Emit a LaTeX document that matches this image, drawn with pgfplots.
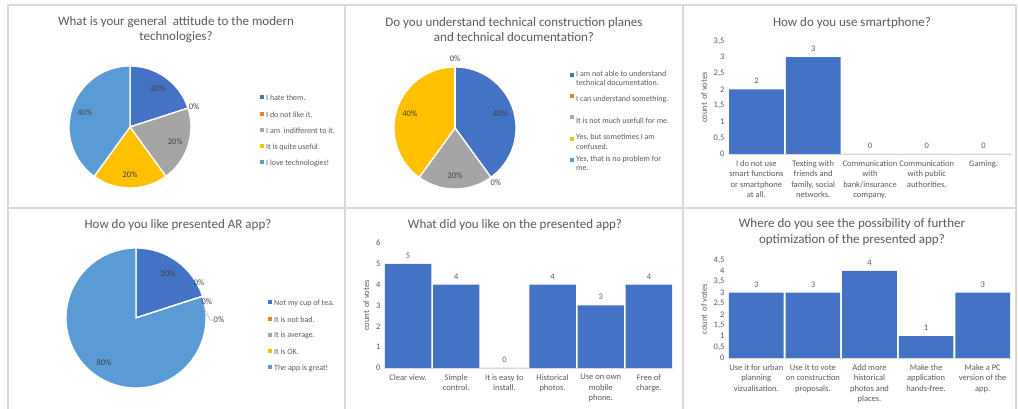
\documentclass[border=0pt]{standalone}
\usepackage{pgfplots}
\pgfplotsset{compat=1.18}
\usepackage{fontspec}
\setmainfont{Carlito}

\definecolor{xblue}{HTML}{4472C4}
\definecolor{xorange}{HTML}{ED7D31}
\definecolor{xgray}{HTML}{A5A5A5}
\definecolor{xyellow}{HTML}{FFC000}
\definecolor{xlblue}{HTML}{5B9BD5}
\definecolor{txt}{HTML}{595959}
\definecolor{lbl}{HTML}{404040}
\definecolor{framec}{HTML}{D9D9D9}

% #1 start (percent), #2 value (percent), #3 colour, #4 radius
\newcommand{\slice}[4]{%
  \fill[#3, draw=white, line width=1.3pt, line join=round]
    (axis cs:0,0) -- (axis cs:{cos(90-3.6*#1)},{sin(90-3.6*#1)})
    arc[start angle={90-3.6*#1}, end angle={90-3.6*(#1+#2)}, radius=#4] -- cycle;}
% label at 0.78 r on the slice bisector
\newcommand{\slicelabel}[2]{%
  \node[font=\fontsize{8.5}{10}\selectfont, text=lbl]
    at (axis cs:{0.78*cos(90-3.6*(#1+#2/2))},{0.78*sin(90-3.6*(#1+#2/2))}) {#2\%};}
\newcommand{\zerolabel}[2]{%
  \node[font=\fontsize{8.5}{10}\selectfont, text=lbl] at (axis cs:#1,#2) {0\%};}

\pgfplotsset{
  pie/.style={
    scale only axis, anchor=south west, hide axis, clip=false,
    xmin=-1, xmax=1, ymin=-1, ymax=1,
    legend image code/.code={\fill[##1, draw=none] (0pt,-2pt) rectangle (4pt,2pt);},
    legend style={draw=none, fill=none, anchor=north west,
      font=\fontsize{8}{9.5}\selectfont, text=txt,
      row sep=5.75pt, nodes={inner sep=1pt},
      /tikz/every odd column/.append style={column sep=1pt}},
    legend cell align=left,
  },
  votes/.style={
    scale only axis, anchor=south west,
    ybar, bar width=0.965, ymin=0,
    separate axis lines,
    axis x line*=bottom, axis y line*=left,
    x axis line style={draw=framec, line width=0.8pt, -},
    y axis line style={draw=none},
    major tick length=0pt,
    ticklabel style={font=\fontsize{8.5}{10.5}\selectfont, text=txt},
    xticklabel style={align=center, yshift=-3pt},
    yticklabel style={/pgf/number format/use comma,
      /pgf/number format/assume math mode=true},
    ylabel={count \,of votes},
    ylabel style={font=\fontsize{8.5}{10}\selectfont, text=txt},
    nodes near coords,
    every node near coord/.append style={font=\fontsize{8.5}{10}\selectfont,
      text=txt, yshift=2pt, /pgf/number format/assume math mode=true},
  },
}

\begin{document}
\begin{tikzpicture}[x=1pt, y=1pt]
\useasboundingbox (0,0) rectangle (1018,409);

% panel frames
\draw[framec, line width=1.2pt]
  (8,0) -- (8,404) -- (1016,404) -- (1016,0)
  (345,0) -- (345,404) (683,0) -- (683,404)
  (8,201) -- (1016,201);

% titles
\begin{scope}[every node/.style={font=\fontsize{13}{15.5}\selectfont, text=txt, align=center}]
\node at (176,379.5) {What is your general \ attitude to the modern\\technologies?};
\node at (514,379.5) {Do you understand technical construction planes\\and technical documentation?};
\node at (852,386) {How do you use smartphone?};
\node at (178,184) {How do you like presented AR app?};
\node at (515,184) {What did you like on the presented app?};
\node at (852,177) {Where do you see the possibility of further\\optimization of the presented app?};
\end{scope}

% ---- pie 1
\begin{axis}[pie, at={(69pt,221pt)}, width=122pt, height=122pt,
  legend style={at={(1.541,0.803)}}]
  \addlegendimage{fill=xblue}   \addlegendentry{\parbox[c][10pt][c]{100pt}{I hate them.}}
  \addlegendimage{fill=xorange} \addlegendentry{\parbox[c][10pt][c]{100pt}{I do not like it.}}
  \addlegendimage{fill=xgray}   \addlegendentry{\parbox[c][10pt][c]{100pt}{I am \ indifferent to it.}}
  \addlegendimage{fill=xyellow} \addlegendentry{\parbox[c][10pt][c]{100pt}{It is quite useful.}}
  \addlegendimage{fill=xlblue}  \addlegendentry{\parbox[c][10pt][c]{100pt}{I love technologies!}}
  \slice{0}{20}{xblue}{61pt}
  \slice{20}{0}{xorange}{61pt}
  \slice{20}{20}{xgray}{61pt}
  \slice{40}{20}{xyellow}{61pt}
  \slice{60}{40}{xlblue}{61pt}
  \slicelabel{0}{20}
  \slicelabel{20}{20}
  \slicelabel{40}{20}
  \slicelabel{60}{40}
  \zerolabel{1.05}{0.33}
\end{axis}

% ---- pie 2
\begin{axis}[pie, at={(394pt,220pt)}, width=122pt, height=122pt,
  legend style={at={(1.418,1.016)}}]
  \addlegendimage{fill=xblue}   \addlegendentry{\parbox[c][20pt][c]{105pt}{\raggedright I am not able to understand\\technical documentation.}}
  \addlegendimage{fill=xorange} \addlegendentry{\parbox[c][20pt][c]{105pt}{I can understand something.}}
  \addlegendimage{fill=xgray}   \addlegendentry{\parbox[c][20pt][c]{105pt}{It is not much usefull for me.}}
  \addlegendimage{fill=xyellow} \addlegendentry{\parbox[c][20pt][c]{105pt}{\raggedright Yes, but sometimes I am\\confused.}}
  \addlegendimage{fill=xlblue}  \addlegendentry{\parbox[c][20pt][c]{105pt}{\raggedright Yes, that is no problem for\\me.}}
  \slice{0}{40}{xblue}{61pt}
  \slice{40}{0}{xorange}{61pt}
  \slice{40}{20}{xgray}{61pt}
  \slice{60}{40}{xyellow}{61pt}
  \slice{100}{0}{xlblue}{61pt}
  \slicelabel{0}{40}
  \slicelabel{40}{20}
  \slicelabel{60}{40}
  \zerolabel{0.67}{-0.9}
  \zerolabel{0}{1.13}
\end{axis}

% ---- pie 4
\begin{axis}[pie, at={(66pt,21pt)}, width=140pt, height=140pt,
  legend style={at={(1.421,0.664)}}]
  \addlegendimage{fill=xblue}   \addlegendentry{\parbox[c][10pt][c]{100pt}{Not my cup of tea.}}
  \addlegendimage{fill=xorange} \addlegendentry{\parbox[c][10pt][c]{100pt}{It is not bad.}}
  \addlegendimage{fill=xgray}   \addlegendentry{\parbox[c][10pt][c]{100pt}{It is average.}}
  \addlegendimage{fill=xyellow} \addlegendentry{\parbox[c][10pt][c]{100pt}{It is OK.}}
  \addlegendimage{fill=xlblue}  \addlegendentry{\parbox[c][10pt][c]{100pt}{The app is great!}}
  \slice{0}{20}{xblue}{70pt}
  \slice{20}{0}{xorange}{70pt}
  \slice{20}{0}{xgray}{70pt}
  \slice{20}{0}{xyellow}{70pt}
  \slice{20}{80}{xlblue}{70pt}
  \slicelabel{0}{20}
  \slicelabel{20}{80}
  \zerolabel{0.9}{0.5}
  \zerolabel{1.01}{0.24}
  \draw[gray!70, line width=0.5pt] (axis cs:0.94,0.19) -- (axis cs:1.06,-0.03) -- (axis cs:1.1,-0.03);
  \node[font=\fontsize{8.5}{10}\selectfont, text=lbl, anchor=west, inner sep=0.5pt] at (axis cs:1.1,-0.03) {0\%};
\end{axis}

% ---- bar chart: smartphone
\begin{axis}[votes, at={(728pt,255pt)}, width=284pt, height=113pt,
  xmin=-0.5, xmax=4.5, ymax=3.5, ytick distance=0.5,
  xtick={0,...,4},
  xticklabels={{I do not use\\smart functions\\or smartphone\\at all.},
    {Texting with\\friends and\\family, social\\networks.},
    {Communication\\with\\bank/insurance\\company.},
    {Communication\\with public\\authorities.},
    {Gaming.}}]
  \addplot[fill=xblue, draw=none] coordinates {(0,2) (1,3) (2,0) (3,0) (4,0)};
\end{axis}

% ---- bar chart: what did you like
\begin{axis}[votes, at={(384pt,41pt)}, width=289pt, height=125pt,
  xmin=-0.5, xmax=5.5, ymax=6, ytick distance=1,
  xtick={0,...,5},
  xticklabels={{Clear view.}, {Simple\\control.}, {It is easy to\\install.},
    {Historical\\photos.}, {Use on own\\mobile\\phone.}, {Free of\\charge.}}]
  \addplot[fill=xblue, draw=none] coordinates {(0,5) (1,4) (2,0) (3,4) (4,3) (5,4)};
\end{axis}

% ---- bar chart: further optimization
\begin{axis}[votes, at={(728pt,51pt)}, width=283pt, height=98pt,
  xmin=-0.5, xmax=4.5, ymax=4.5, ytick distance=0.5,
  xtick={0,...,4},
  xticklabels={{Use it for urban\\planning\\vizualisation.},
    {Use it to vote\\on construction\\proposals.},
    {Add more\\historical\\photos and\\places.},
    {Make the\\application\\hands-free.},
    {Make a PC\\version of the\\app.}}]
  \addplot[fill=xblue, draw=none] coordinates {(0,3) (1,3) (2,4) (3,1) (4,3)};
\end{axis}

\end{tikzpicture}
\end{document}
